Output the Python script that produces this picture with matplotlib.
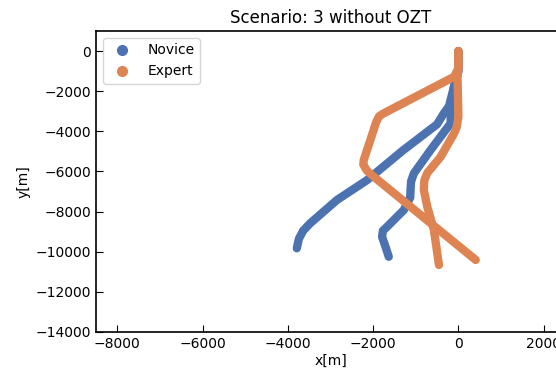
import numpy as np
import matplotlib.pyplot as plt

# Trajectories (x, y in metres)
novice_a_x = [0, 0, -100, -220, -340, -500, -1300, -2141, -2847, -3475, -3640, -3740, -3790]
novice_a_y = [0, -1000, -1750, -2750, -3100, -3650, -4950, -6430, -7420, -8580, -8950, -9350, -9830]
novice_b_x = [0, 0, -100, -180, -181, -652, -1045, -1110, -1122, -1130, -1280, -1670, -1770, -1790, -1710, -1633]
novice_b_y = [0, -1000, -1750, -2800, -3600, -4930, -6100, -6500, -6930, -7300, -7920, -8750, -8950, -9250, -9750, -10250]

expert_a_x = [0, 0, -100, -1750, -1860, -1930, -2064, -2220, -2230, -2150, -1986, 407]
expert_a_y = [0, -850, -1280, -3100, -3250, -3550, -4430, -5430, -5650, -5950, -6260, -10410]
expert_b_x = [0, 0, -20, 0, -40, -100, -416, -730, -800, -810, -730, -574, -456]
expert_b_y = [0, -850, -1300, -3270, -3800, -4100, -5270, -6080, -6450, -6930, -7760, -8920, -10660]

blue = '#4C72B0'
orange = '#DD8452'

fig = plt.figure(figsize=(5.56, 3.69), dpi=100)
ax = fig.add_axes([0.1727, 0.1003, 0.8434, 0.8157])

for xs, ys in [(novice_a_x, novice_a_y), (novice_b_x, novice_b_y)]:
    ax.plot(xs, ys, color=blue, lw=6, solid_capstyle='round', solid_joinstyle='round')
for xs, ys in [(expert_a_x, expert_a_y), (expert_b_x, expert_b_y)]:
    ax.plot(xs, ys, color=orange, lw=6, solid_capstyle='round', solid_joinstyle='round')

# legend uses circle markers like a scatter plot
ax.plot([], [], 'o', color=blue, ms=7, label='Novice')
ax.plot([], [], 'o', color=orange, ms=7, label='Expert')
ax.legend(loc='upper left')

ax.set_xlim(-8500, 2500)
ax.set_ylim(-14000, 1000)
ax.set_xticks(np.arange(-8000, 2001, 2000))
ax.set_yticks(np.arange(-14000, 1, 2000))
ax.tick_params(direction='in', length=5)
for s in ax.spines.values():
    s.set_linewidth(1.2)

ax.set_title('Scenario: 3 without OZT')
ax.set_xlabel('x[m]', labelpad=2)
ax.set_ylabel('y[m]')

fig.savefig('out.png', dpi=100)
